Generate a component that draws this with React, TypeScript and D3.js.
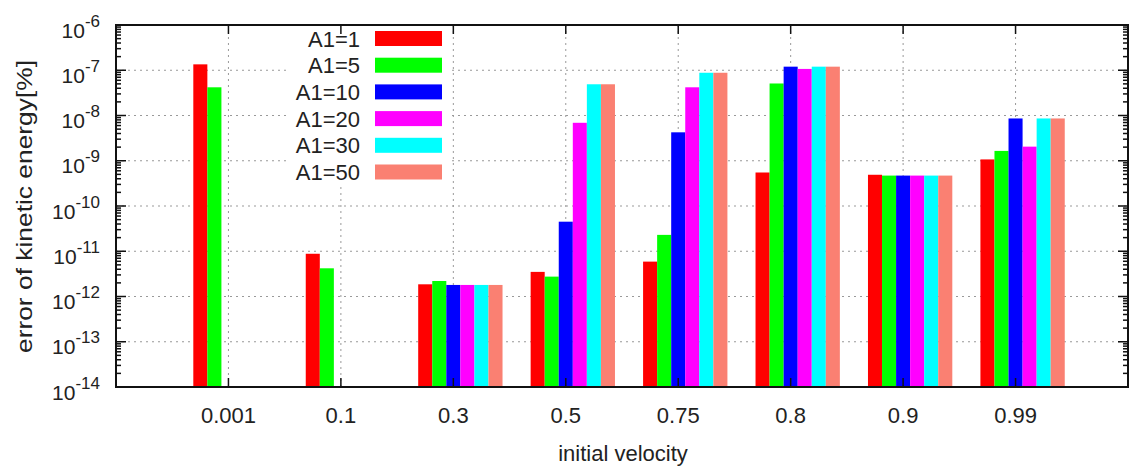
import React from 'react';
import * as d3 from 'd3';

const categories = ['0.001', '0.1', '0.3', '0.5', '0.75', '0.8', '0.9', '0.99'];
const seriesNames = ['A1=1', 'A1=5', 'A1=10', 'A1=20', 'A1=30', 'A1=50'];
const seriesColors = ['#ff0000', '#00ff00', '#0000ff', '#ff00ff', '#00ffff', '#fa8072'];

// one value per category, null = no bar
const a1_1 = [1.35e-7, 8.8e-12, 1.86e-12, 3.5e-12, 5.9e-12, 5.5e-10, 4.9e-10, 1.07e-9];
const a1_5 = [4.2e-8, 4.2e-12, 2.2e-12, 2.75e-12, 2.3e-11, 5.1e-8, 4.7e-10, 1.65e-9];
const a1_10 = [null, null, 1.8e-12, 4.5e-11, 4.25e-9, 1.2e-7, 4.7e-10, 8.6e-9];
const a1_20 = [null, null, 1.8e-12, 6.9e-9, 4.2e-8, 1.07e-7, 4.7e-10, 2.05e-9];
const a1_30 = [null, null, 1.8e-12, 4.9e-8, 8.8e-8, 1.2e-7, 4.7e-10, 8.6e-9];
const a1_50 = [null, null, 1.8e-12, 4.9e-8, 8.8e-8, 1.2e-7, 4.7e-10, 8.6e-9];
const series = [a1_1, a1_5, a1_10, a1_20, a1_30, a1_50];

const yExponents = [-6, -7, -8, -9, -10, -11, -12, -13, -14];

const width = 1129, height = 466;
const margin = { top: 25, right: 1, bottom: 79, left: 116 };
const font = "'Liberation Sans', Arial, sans-serif";

export default function App() {
  const x = d3.scaleLinear()
    .domain([-1, categories.length])
    .range([margin.left, width - margin.right]);
  const y = d3.scaleLog()
    .domain([1e-14, 1e-6])
    .range([height - margin.bottom, margin.top]);

  const x0 = margin.left, x1 = width - margin.right;
  const yTop = margin.top, yBot = height - margin.bottom;
  const barW = x(1 / 8) - x(0);

  const minors: number[] = [];
  for (let e = -14; e < -6; e++) {
    for (let m = 2; m <= 9; m++) minors.push(m * Math.pow(10, e));
  }

  const legend = { x: 290, y: 25, w: 162, h: 160 };

  return (
    <svg width={width} height={height} style={{ position: 'absolute', left: 0, top: 0, background: '#fff' }}
      fontFamily={font}>
      {/* grid */}
      <g stroke="#999" strokeWidth={1} strokeDasharray="2,4">
        {yExponents.slice(1, -1).map(e => (
          <line key={'h' + e} x1={x0} x2={x1} y1={y(Math.pow(10, e))} y2={y(Math.pow(10, e))} />
        ))}
        {categories.map((c, i) => (
          <line key={'v' + c} x1={x(i)} x2={x(i)} y1={yTop} y2={yBot} />
        ))}
      </g>

      {/* legend background */}
      <rect x={legend.x} y={legend.y} width={legend.w} height={legend.h} fill="#fff" />

      {/* bars */}
      {series.map((vals, k) => (
        <g key={seriesNames[k]} fill={seriesColors[k]}>
          {vals.map((v, i) => v == null ? null : (
            <rect key={i}
              x={x(i + (-2.5 + k) / 8)}
              width={barW}
              y={y(v)}
              height={y(1e-14) - y(v)} />
          ))}
        </g>
      ))}

      {/* ticks */}
      <g stroke="#111" strokeWidth={1.5}>
        {yExponents.map(e => {
          const yy = y(Math.pow(10, e));
          return <g key={'t' + e}>
            <line x1={x0} x2={x0 + 10} y1={yy} y2={yy} />
            <line x1={x1 - 10} x2={x1} y1={yy} y2={yy} />
          </g>;
        })}
        {minors.map((v, i) => (
          <g key={'m' + i}>
            <line x1={x0} x2={x0 + 5} y1={y(v)} y2={y(v)} />
            <line x1={x1 - 5} x2={x1} y1={y(v)} y2={y(v)} />
          </g>
        ))}
        {categories.map((c, i) => (
          <g key={'xt' + c}>
            <line x1={x(i)} x2={x(i)} y1={yBot} y2={yBot - 9} />
            <line x1={x(i)} x2={x(i)} y1={yTop} y2={yTop + 9} />
          </g>
        ))}
      </g>

      {/* frame */}
      <rect x={x0} y={yTop} width={x1 - x0} height={yBot - yTop} fill="none" stroke="#111" strokeWidth={2} />

      {/* y tick labels */}
      {yExponents.map(e => (
        <text key={'yl' + e} x={100} y={y(Math.pow(10, e)) + 12.5} textAnchor="end" fill="#222">
          <tspan fontSize={21}>10</tspan>
          <tspan fontSize={17} dy={-11}>{String(e)}</tspan>
        </text>
      ))}

      {/* x tick labels */}
      {categories.map((c, i) => (
        <text key={'xl' + c} x={x(i)} y={423} textAnchor="middle" fontSize={22} fill="#222">{c}</text>
      ))}

      {/* axis titles */}
      <text x={623} y={461} textAnchor="middle" fontSize={22} fill="#222">initial velocity</text>
      <text transform={`translate(32,${(60 + 353) / 2}) rotate(-90)`} textAnchor="middle" fontSize={22}
        fill="#222" textLength={293} lengthAdjust="spacingAndGlyphs">error of kinetic energy[%]</text>

      {/* legend */}
      {seriesNames.map((n, k) => {
        const cy = 38.5 + k * 26.7;
        return <g key={'lg' + n}>
          <text x={360} y={cy + 8} textAnchor="end" fontSize={22} fill="#222">{n}</text>
          <rect x={375} y={cy - 7.5} width={67} height={15} fill={seriesColors[k]} />
        </g>;
      })}
    </svg>
  );
}
